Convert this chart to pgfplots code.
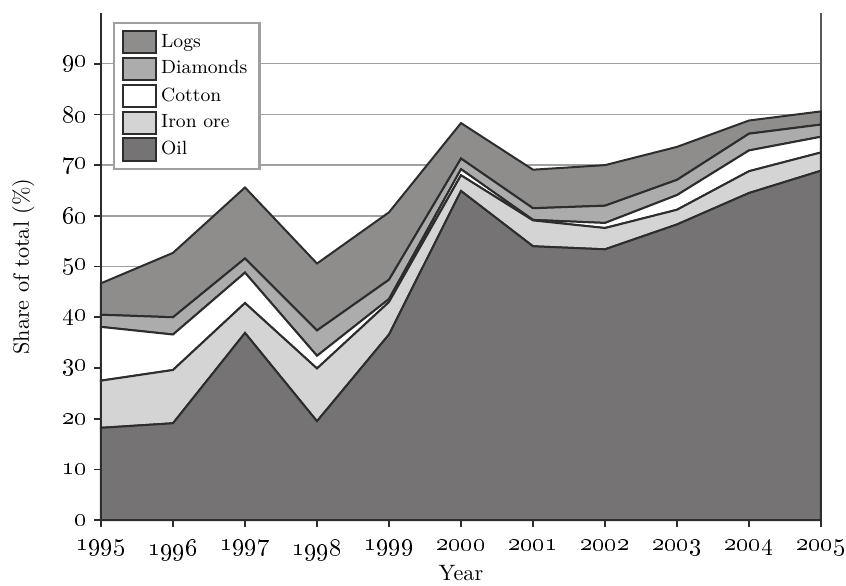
\documentclass[border=0pt]{standalone}
\usepackage{pgfplots}
\pgfplotsset{compat=1.18}
\definecolor{logs}{RGB}{143,141,139}
\definecolor{diam}{RGB}{172,172,172}
\definecolor{iron}{RGB}{212,212,212}
\definecolor{oil}{RGB}{118,115,116}
\definecolor{edge}{RGB}{45,45,45}
\definecolor{gridc}{RGB}{160,160,160}
\begin{document}
\begin{tikzpicture}
\begin{axis}[
  scale only axis,
  width=324pt, height=228.2pt,
  xmin=1995, xmax=2005, ymin=0, ymax=100,
  stack plots=y,
  axis line style={draw=none},
  xtick={1995,...,2005},
  xticklabels={\oldstylenums{1995},\oldstylenums{1996},\oldstylenums{1997},\oldstylenums{1998},\oldstylenums{1999},\oldstylenums{2000},\oldstylenums{2001},\oldstylenums{2002},\oldstylenums{2003},\oldstylenums{2004},\oldstylenums{2005}},
  ytick={0,10,...,90},
  yticklabels={\oldstylenums{0},\oldstylenums{10},\oldstylenums{20},\oldstylenums{30},\oldstylenums{40},\oldstylenums{50},\oldstylenums{60},\oldstylenums{70},\oldstylenums{80},\oldstylenums{90}},
  ticklabel style={font=\fontsize{10.6}{12}\selectfont},
  xticklabel style={yshift=-2.5pt},
  xtick pos=bottom, ytick pos=left,
  tick align=outside,
  major tick length=3pt,
  tick style={edge, line width=0.8pt},
  ymajorgrids,
  grid style={gridc, line width=0.7pt},
  xlabel={Year},
  ylabel={Share of total (\%)},
  xlabel style={at={([yshift=-23.9pt]axis description cs:0.5,0)}, anchor=center},
  ylabel style={at={([xshift=-35pt]axis description cs:0,0.5)}, anchor=center},
  reverse legend,
  legend style={at={([xshift=5.4pt,yshift=-4pt]axis description cs:0,1)}, anchor=north west,
    draw=gridc, line width=1pt, font=\fontsize{8.6}{10}\selectfont, row sep=0.6pt,
    inner xsep=3.5pt, inner ysep=3pt},
  legend cell align=left,
  legend image code/.code={\draw[#1] (0pt,-5pt) rectangle (14.8pt,5pt);},
  clip=false,
]
\addplot[fill=oil, draw=edge, line width=0.9pt] coordinates {
 (1995,18.2) (1996,19.1) (1997,36.9) (1998,19.5) (1999,36.6) (2000,64.9)
 (2001,54.0) (2002,53.4) (2003,58.3) (2004,64.5) (2005,68.9)} \closedcycle;
\addplot[fill=iron, draw=edge, line width=0.9pt] coordinates {
 (1995,9.3) (1996,10.5) (1997,5.9) (1998,10.4) (1999,6.4) (2000,3.1)
 (2001,5.1) (2002,4.2) (2003,2.9) (2004,4.3) (2005,3.6)} \closedcycle;
\addplot[fill=white, draw=edge, line width=0.9pt] coordinates {
 (1995,10.6) (1996,7.0) (1997,6.0) (1998,2.5) (1999,0.6) (2000,1.2)
 (2001,0.1) (2002,1.0) (2003,2.9) (2004,4.1) (2005,3.1)} \closedcycle;
\addplot[fill=diam, draw=edge, line width=0.9pt] coordinates {
 (1995,2.4) (1996,3.4) (1997,2.8) (1998,5.0) (1999,3.8) (2000,2.1)
 (2001,2.3) (2002,3.4) (2003,3.0) (2004,3.3) (2005,2.4)} \closedcycle;
\addplot[fill=logs, draw=edge, line width=0.9pt] coordinates {
 (1995,6.2) (1996,12.7) (1997,14.0) (1998,13.2) (1999,13.3) (2000,7.0)
 (2001,7.6) (2002,8.0) (2003,6.5) (2004,2.6) (2005,2.6)} \closedcycle;
\legend{Oil,Iron ore,Cotton,Diamonds,Logs}
\draw[edge, line width=0.9pt] (rel axis cs:0,1) -- (rel axis cs:0,0) -- (rel axis cs:1,0);
\draw[black!65, line width=0.9pt] (rel axis cs:1,0) -- (rel axis cs:1,1);
\end{axis}
\pgfresetboundingbox
\path ([shift={(-45.45pt,-29.2pt)}]current axis.south west) rectangle ([shift={(11.25pt,5.85pt)}]current axis.north east);
\end{tikzpicture}
\end{document}
